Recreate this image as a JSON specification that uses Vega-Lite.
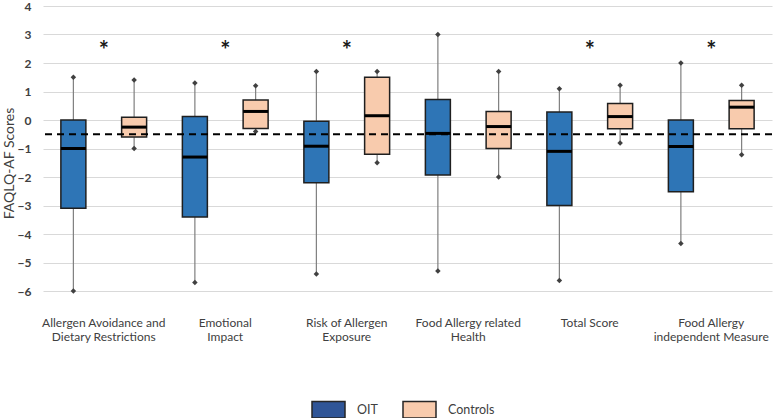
{
  "$schema": "https://vega.github.io/schema/vega-lite/v6.json",
  "width": 729,
  "height": 285,
  "autosize": {"type": "none"},
  "padding": {"left": 43, "top": 6, "right": 9, "bottom": 127},
  "config": {
    "view": {"stroke": null},
    "font": "Lato",
    "axisY": {
      "labelOverlap": false,
      "domain": false, "ticks": false, "grid": true, "gridColor": "#d9d9d9", "gridWidth": 1,
      "labelFontWeight": "bold", "labelFontSize": 12, "labelColor": "#404040", "labelFont": "Lato", "labelPadding": 12,
      "titleFontWeight": "normal", "titleFontSize": 14, "titleColor": "#404040", "titleFont": "Lato", "titlePadding": 1
    }
  },
  "datasets": {
    "boxes": [
      {"category": "Allergen Avoidance and Dietary Restrictions", "group": "OIT", "min": -6.0, "q1": -3.1, "median": -1.0, "q3": 0.0, "max": 1.5},
      {"category": "Allergen Avoidance and Dietary Restrictions", "group": "Controls", "min": -1.0, "q1": -0.6, "median": -0.25, "q3": 0.1, "max": 1.4},
      {"category": "Emotional Impact", "group": "OIT", "min": -5.7, "q1": -3.4, "median": -1.3, "q3": 0.12, "max": 1.3},
      {"category": "Emotional Impact", "group": "Controls", "min": -0.4, "q1": -0.3, "median": 0.3, "q3": 0.7, "max": 1.2},
      {"category": "Risk of Allergen Exposure", "group": "OIT", "min": -5.4, "q1": -2.2, "median": -0.92, "q3": -0.04, "max": 1.7},
      {"category": "Risk of Allergen Exposure", "group": "Controls", "min": -1.5, "q1": -1.2, "median": 0.15, "q3": 1.5, "max": 1.7},
      {"category": "Food Allergy related Health", "group": "OIT", "min": -5.3, "q1": -1.93, "median": -0.47, "q3": 0.72, "max": 3.0},
      {"category": "Food Allergy related Health", "group": "Controls", "min": -2.0, "q1": -1.0, "median": -0.23, "q3": 0.3, "max": 1.7},
      {"category": "Total Score", "group": "OIT", "min": -5.63, "q1": -3.0, "median": -1.1, "q3": 0.28, "max": 1.1},
      {"category": "Total Score", "group": "Controls", "min": -0.81, "q1": -0.31, "median": 0.12, "q3": 0.58, "max": 1.22},
      {"category": "Food Allergy independent Measure", "group": "OIT", "min": -4.33, "q1": -2.52, "median": -0.93, "q3": 0.0, "max": 2.0},
      {"category": "Food Allergy independent Measure", "group": "Controls", "min": -1.22, "q1": -0.31, "median": 0.45, "q3": 0.68, "max": 1.22}
    ],
    "stars": [
      {"category": "Allergen Avoidance and Dietary Restrictions", "label": "*"},
      {"category": "Emotional Impact", "label": "*"},
      {"category": "Risk of Allergen Exposure", "label": "*"},
      {"category": "Total Score", "label": "*"},
      {"category": "Food Allergy independent Measure", "label": "*"}
    ],
    "ref": [{"ref": -0.5}]
  },
  "resolve": {"scale": {"fill": "independent"}, "legend": {"fill": "independent"}},
  "layer": [
    {
      "data": {"name": "boxes"},
      "mark": {"type": "rule", "color": "#7f7f7f", "strokeWidth": 1.2},
      "encoding": {
        "x": {
          "field": "category", "type": "nominal",
          "scale": {"domain": ["Allergen Avoidance and Dietary Restrictions", "Emotional Impact", "Risk of Allergen Exposure", "Food Allergy related Health", "Total Score", "Food Allergy independent Measure"], "paddingInner": 0, "paddingOuter": 0},
          "axis": {
            "title": null, "labelAngle": 0, "domain": false, "ticks": false, "grid": false,
            "labelPadding": 26, "labelFontSize": 12, "labelColor": "#404040", "labelFont": "Lato", "labelLineHeight": 14, "labelLimit": 300,
            "labelExpr": "datum.value == 'Allergen Avoidance and Dietary Restrictions' ? ['Allergen Avoidance and', 'Dietary Restrictions'] : datum.value == 'Emotional Impact' ? ['Emotional', 'Impact'] : datum.value == 'Risk of Allergen Exposure' ? ['Risk of Allergen', 'Exposure'] : datum.value == 'Food Allergy related Health' ? ['Food Allergy related', 'Health'] : datum.value == 'Food Allergy independent Measure' ? ['Food Allergy', 'independent Measure'] : datum.value"
          }
        },
        "xOffset": {"field": "group", "type": "nominal", "scale": {"domain": ["OIT", "Controls"], "paddingInner": 0.5885, "paddingOuter": 0.29425}},
        "y": {
          "field": "min", "type": "quantitative", "title": "FAQLQ-AF Scores",
          "scale": {"domain": [-6, 4], "nice": false, "zero": false},
          "axis": {"title": "FAQLQ-AF Scores", "values": [-6, -5, -4, -3, -2, -1, 0, 1, 2, 3, 4], "tickCount": 11, "labelOverlap": false, "titleY": 157}
        },
        "y2": {"field": "max"}
      }
    },
    {
      "data": {"name": "boxes"},
      "mark": {"type": "bar", "stroke": "#1f1f1f", "strokeWidth": 1.5},
      "encoding": {
        "x": {"field": "category", "type": "nominal"},
        "xOffset": {"field": "group", "type": "nominal"},
        "y": {"field": "q1", "type": "quantitative", "title": "FAQLQ-AF Scores", "axis": {"title": "FAQLQ-AF Scores", "values": [-6, -5, -4, -3, -2, -1, 0, 1, 2, 3, 4], "tickCount": 11, "labelOverlap": false, "titleY": 157}},
        "y2": {"field": "q3"},
        "fill": {"field": "group", "type": "nominal", "scale": {"domain": ["OIT", "Controls"], "range": ["#2E75B6", "#F8CBAD"]}, "legend": null}
      }
    },
    {
      "data": {"name": "boxes"},
      "mark": {"type": "tick", "color": "#000000", "thickness": 3, "size": 25, "opacity": 1},
      "encoding": {
        "x": {"field": "category", "type": "nominal"},
        "xOffset": {"field": "group", "type": "nominal"},
        "y": {"field": "median", "type": "quantitative", "title": "FAQLQ-AF Scores", "axis": {"title": "FAQLQ-AF Scores", "values": [-6, -5, -4, -3, -2, -1, 0, 1, 2, 3, 4], "tickCount": 11, "labelOverlap": false, "titleY": 157}}
      }
    },
    {
      "data": {"name": "boxes"},
      "mark": {"type": "point", "shape": "diamond", "filled": true, "color": "#404040", "size": 30, "opacity": 1},
      "encoding": {
        "x": {"field": "category", "type": "nominal"},
        "xOffset": {"field": "group", "type": "nominal"},
        "y": {"field": "min", "type": "quantitative", "title": "FAQLQ-AF Scores", "axis": {"title": "FAQLQ-AF Scores", "values": [-6, -5, -4, -3, -2, -1, 0, 1, 2, 3, 4], "tickCount": 11, "labelOverlap": false, "titleY": 157}}
      }
    },
    {
      "data": {"name": "boxes"},
      "mark": {"type": "point", "shape": "diamond", "filled": true, "color": "#404040", "size": 30, "opacity": 1},
      "encoding": {
        "x": {"field": "category", "type": "nominal"},
        "xOffset": {"field": "group", "type": "nominal"},
        "y": {"field": "max", "type": "quantitative", "title": "FAQLQ-AF Scores", "axis": {"title": "FAQLQ-AF Scores", "values": [-6, -5, -4, -3, -2, -1, 0, 1, 2, 3, 4], "tickCount": 11, "labelOverlap": false, "titleY": 157}}
      }
    },
    {
      "data": {"name": "ref"},
      "mark": {"type": "rule", "color": "#000000", "strokeWidth": 2, "strokeDash": [7, 5]},
      "encoding": {
        "y": {"field": "ref", "type": "quantitative", "title": "FAQLQ-AF Scores", "axis": {"title": "FAQLQ-AF Scores", "values": [-6, -5, -4, -3, -2, -1, 0, 1, 2, 3, 4], "tickCount": 11, "labelOverlap": false, "titleY": 157}}
      }
    },
    {
      "data": {"name": "stars"},
      "mark": {"type": "text", "font": "Lato", "fontSize": 24, "fontWeight": "bold", "color": "#1a1a1a", "baseline": "middle", "dy": 5},
      "encoding": {
        "x": {"field": "category", "type": "nominal"},
        "y": {"datum": 2.55, "type": "quantitative", "title": "FAQLQ-AF Scores", "axis": {"title": "FAQLQ-AF Scores", "values": [-6, -5, -4, -3, -2, -1, 0, 1, 2, 3, 4], "tickCount": 11, "labelOverlap": false, "titleY": 157}},
        "text": {"field": "label"}
      }
    },
    {
      "data": {"name": "boxes"},
      "mark": {"type": "bar", "opacity": 0},
      "encoding": {
        "x": {"field": "category", "type": "nominal"},
        "xOffset": {"field": "group", "type": "nominal"},
        "y": {"field": "q1", "type": "quantitative", "title": "FAQLQ-AF Scores", "axis": {"title": "FAQLQ-AF Scores", "values": [-6, -5, -4, -3, -2, -1, 0, 1, 2, 3, 4], "tickCount": 11, "labelOverlap": false, "titleY": 157}},
        "y2": {"field": "q3"},
        "fill": {
          "field": "group", "type": "nominal",
          "scale": {"domain": ["OIT", "Controls"], "range": ["#2F5597", "#F8CBAD"]},
          "legend": {
            "title": null, "orient": "none", "direction": "horizontal", "legendX": 268, "legendY": 386, "padding": 0,
            "symbolType": "M-1,-0.5H1V0.5H-1Z", "symbolSize": 1089, "symbolOpacity": 1,
            "symbolStrokeColor": "#262626", "symbolStrokeWidth": 1.5,
            "labelFontSize": 12.5, "labelColor": "#404040", "labelFont": "Lato", "labelOffset": 11, "columnPadding": 22,
            "encode": {"symbols": {"update": {"opacity": {"value": 1}, "stroke": {"value": "#262626"}}}}
          }
        }
      }
    }
  ]
}
